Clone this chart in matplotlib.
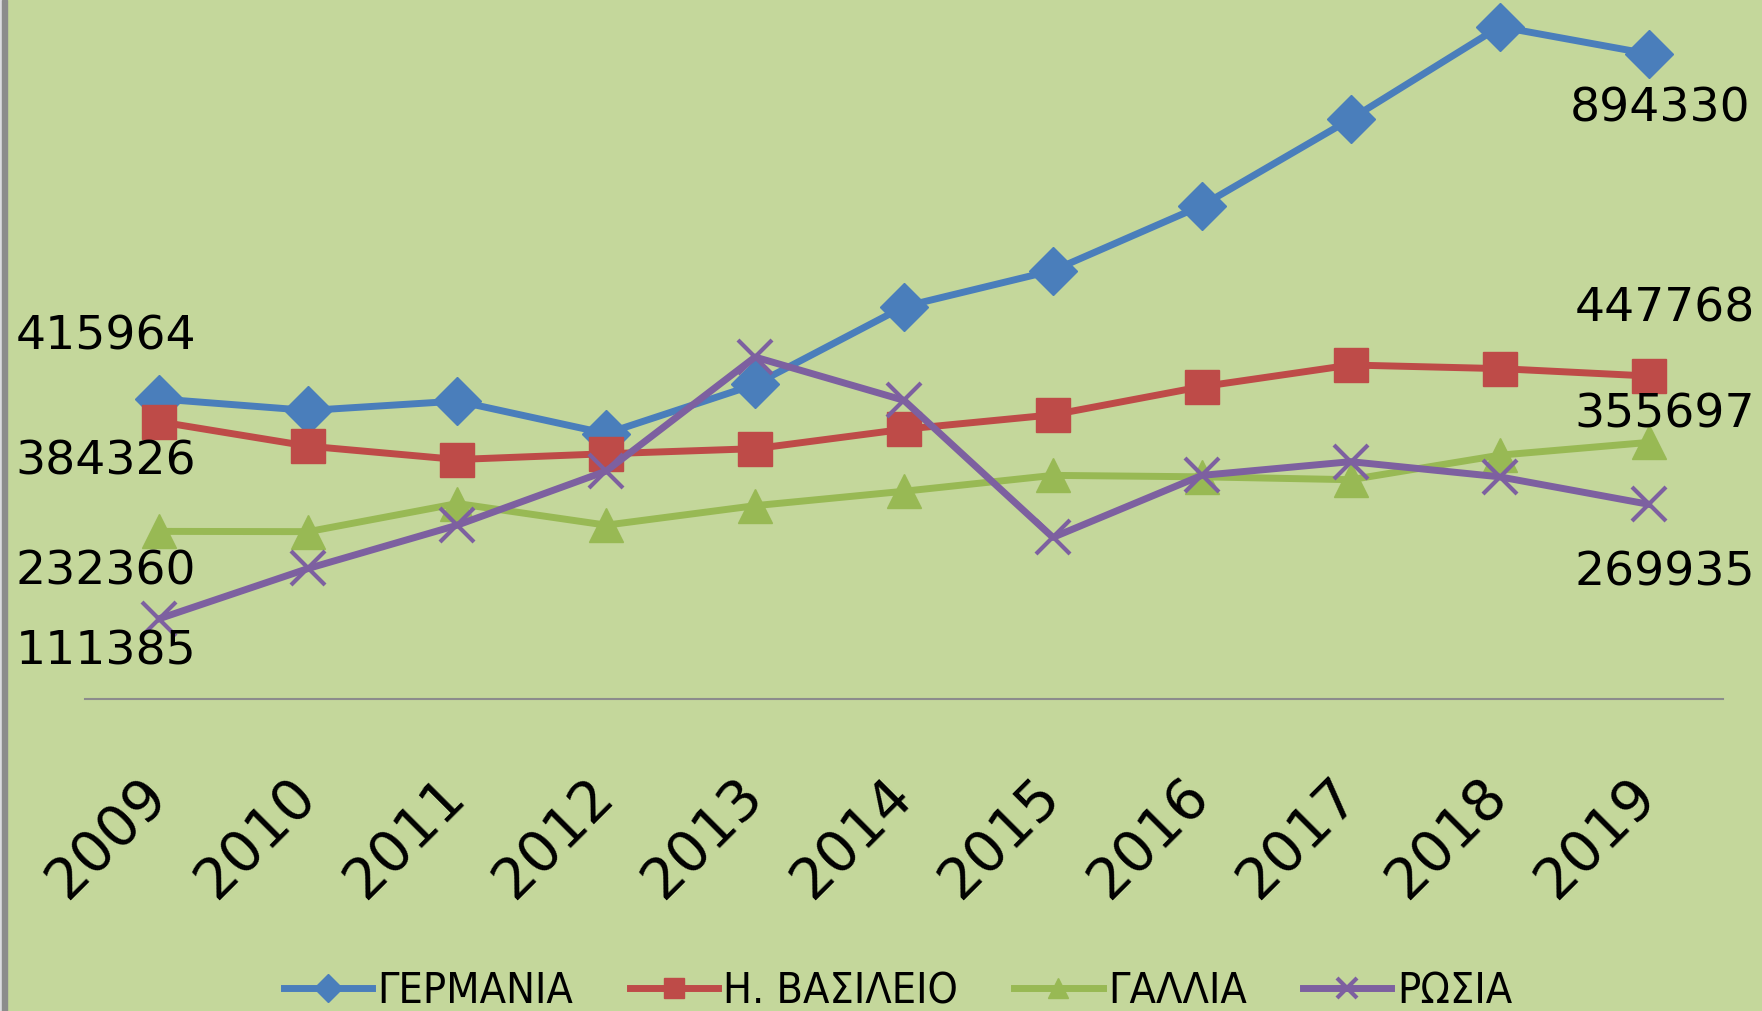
import matplotlib.pyplot as plt
from matplotlib.patches import Rectangle

years = ["2009", "2010", "2011", "2012", "2013", "2014",
         "2015", "2016", "2017", "2018", "2019"]
germany = [415964, 400000, 413000, 368000, 436000, 544000,
           594000, 684000, 804000, 932000, 894330]
uk = [384326, 350500, 332000, 340000, 347000, 374000,
      394000, 433000, 463000, 458000, 447768]
france = [232360, 232000, 271000, 241000, 268000, 288000,
          310000, 308000, 304000, 338000, 355697]
russia = [111385, 181000, 241000, 316000, 474000, 414000,
          224000, 310000, 329000, 308000, 269935]
names = ["ΓΕΡΜΑΝΙΑ", "Η. ΒΑΣΙΛΕΙΟ", "ΓΑΛΛΙΑ", "ΡΩΣΙΑ"]

bg = "#C4D79B"
fig = plt.figure(figsize=(17.62, 10.11), dpi=100, facecolor=bg)
ax = fig.add_axes([85 / 1762, 1 - 699 / 1011, 1638 / 1762, 699 / 1011])
ax.set_facecolor(bg)

x = list(range(len(years)))
styles = [
    (germany, "#4A7EBB", "D", 24, dict()),
    (uk, "#BE4B48", "s", 25, dict()),
    (france, "#98B954", "^", 25, dict()),
    (russia, "#7D60A0", "x", 24, dict(markeredgewidth=3)),
]
for (vals, col, mk, ms, kw), name in zip(styles, names):
    ax.plot(x, vals, color=col, lw=5, marker=mk, markersize=ms,
            markerfacecolor=col, markeredgecolor=col, label=name,
            clip_on=False, **kw)

# data labels at first and last year (offsets in pixels)
first_off = [(-144, -62), (-144, 40), (-144, 41), (-144, 33)]
last_off = [(12, 55), (16, -67), (16, -27), (16, 69)]
for (vals, *_), o1, o2 in zip(styles, first_off, last_off):
    ax.annotate(str(vals[0]), (x[0], vals[0]), xytext=(o1[0], -o1[1]),
                textcoords="offset pixels", ha="left", va="center",
                fontsize=34, color="black")
    ax.annotate(str(vals[-1]), (x[-1], vals[-1]), xytext=(o2[0], -o2[1]),
                textcoords="offset pixels", ha="center", va="center",
                fontsize=34, color="black")

ax.set_xlim(-0.5, 10.5)
ax.set_ylim(0, 969000)
ax.set_yticks([])
ax.set_xticks(x)
ax.set_xticklabels(years, rotation=45, ha="right", va="center",
                   rotation_mode="anchor", fontsize=41)
ax.tick_params(axis="x", length=0, pad=64)
for s in ["top", "right", "left"]:
    ax.spines[s].set_visible(False)
ax.spines["bottom"].set_color("#8C8C8C")
ax.spines["bottom"].set_linewidth(1.5)

leg = fig.legend(loc="center", bbox_to_anchor=(898 / 1762, 20 / 1011), ncol=4,
                 frameon=False, handlelength=2.05, handletextpad=0.13,
                 columnspacing=1.3, markerscale=0.6,
                 prop={"family": "DejaVu Sans", "stretch": "condensed", "size": 31})

# left border strips
fig.patches.append(Rectangle((0, 0), 2 / 1762, 1, transform=fig.transFigure,
                             color="#DCDCE0", zorder=10))
fig.patches.append(Rectangle((2 / 1762, 0), 5 / 1762, 1, transform=fig.transFigure,
                             color="#8C8C8C", zorder=10))

fig.savefig("out.png", dpi=100, facecolor=bg)
